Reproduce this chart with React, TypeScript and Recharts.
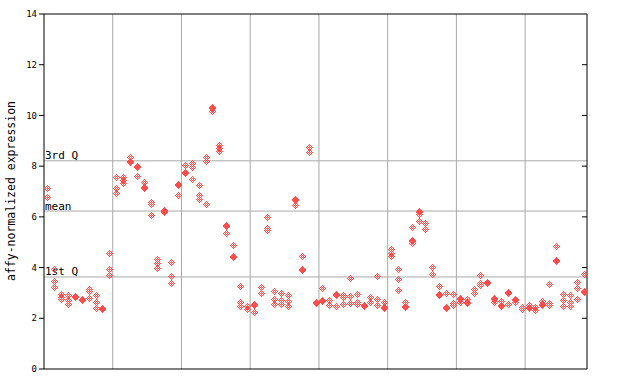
import React from 'react';
import { ScatterChart, Scatter, XAxis, YAxis, ReferenceLine } from 'recharts';

// Expression values per sample (8 groups, 79 samples)
const group1: number[][] = [
  [7.14, 6.78], [3.93, 3.47, 3.23], [2.94, 2.85, 2.76], [2.92, 2.72, 2.56], [2.87, 2.83],
  [2.75, 2.71], [3.15, 3.07, 2.8], [2.92, 2.65, 2.39], [2.41, 2.37], [4.56, 3.93, 3.69],
];
const group2: number[][] = [
  [7.56, 7.12, 6.94], [7.56, 7.45, 7.32], [8.37, 8.22, 8.18], [8.0, 7.96, 7.61], [7.36, 7.17, 7.13],
  [6.57, 6.51, 6.06], [4.34, 4.17, 3.99], [6.29, 6.25, 6.2], [4.21, 3.67, 3.38], [7.3, 7.26, 6.86],
];
const group3: number[][] = [
  [8.03, 7.76, 7.72], [8.14, 7.98, 7.48], [7.26, 6.86, 6.69], [8.37, 8.21, 6.51], [10.34, 10.3, 10.19],
  [8.85, 8.72, 8.6], [5.67, 5.63, 5.35], [4.88, 4.47, 4.4], [3.26, 2.65, 2.5], [2.5, 2.35],
];
const group4: number[][] = [
  [2.58, 2.54, 2.26], [3.23, 2.98], [5.98, 5.55, 5.48], [3.06, 2.75, 2.56], [2.98, 2.72, 2.56],
  [2.9, 2.67, 2.48], [6.7, 6.66, 6.45], [4.44, 3.94, 3.9], [8.74, 8.57], [2.65, 2.59],
];
const group5: number[][] = [
  [3.18, 2.71, 2.67], [2.74, 2.51], [2.95, 2.91, 2.47], [2.93, 2.85, 2.55], [3.58, 2.88, 2.59],
  [2.96, 2.65, 2.55], [2.54, 2.5], [2.84, 2.63], [3.66, 2.76, 2.52], [2.64, 2.44, 2.4],
];
const group6: number[][] = [
  [4.72, 4.56, 4.47], [3.93, 3.54, 3.1], [2.63, 2.5, 2.46], [5.59, 5.08, 5.04, 4.96], [6.24, 6.2, 6.1, 5.85],
  [5.74, 5.53], [4.01, 3.73], [3.26, 2.94, 2.9], [2.98, 2.44, 2.4], [2.96, 2.61, 2.51],
];
const group7: number[][] = [
  [2.79, 2.75, 2.64], [2.77, 2.63, 2.59], [3.14, 2.98], [3.71, 3.4, 3.32], [3.42, 3.38],
  [2.79, 2.75, 2.64], [2.68, 2.52, 2.48], [3.04, 3.0, 2.56], [2.78, 2.74, 2.65], [2.46, 2.37],
];
const group8: number[][] = [
  [2.54, 2.46, 2.42], [2.43, 2.33], [2.7, 2.58, 2.54], [3.34, 2.61, 2.52], [4.84, 4.29, 4.25],
  [2.94, 2.71, 2.47], [2.9, 2.64, 2.47], [3.42, 3.18, 2.75], [3.73, 3.07, 3.03],
];

const groups = [group1, group2, group3, group4, group5, group6, group7, group8];
const yTicks = [0, 2, 4, 6, 8, 10, 12, 14];
const groupBoundaries = [10, 20, 30, 40, 50, 60, 70];
const quartiles = [
  { label: '3rd Q', value: 8.21 },
  { label: 'mean', value: 6.23 },
  { label: '1st Q', value: 3.63 },
];

const samples: number[][] = groups.flat();
const N = samples.length;
const points: { x: number; y: number }[] = [];
samples.forEach((vals, i) => {
  vals.forEach((v) => points.push({ x: i + 0.5, y: v }));
});

const RED = '#ff4d4d';
const GRID = '#a9a9a9';
const MONO = '"DejaVu Sans Mono", "Liberation Mono", monospace';

const Diamond = (props: any) => {
  const { cx, cy } = props;
  if (cx == null || cy == null) return null;
  const x0 = Math.round(cx);
  const y0 = Math.round(cy);
  const rects: React.ReactNode[] = [];
  for (let dy = -3; dy <= 3; dy++) {
    for (let dx = -3; dx <= 3; dx++) {
      if (Math.abs(dx) + Math.abs(dy) <= 3 && Math.abs(dx + dy) % 2 === 1) {
        rects.push(
          <rect key={`${dx}_${dy}`} x={x0 + dx} y={y0 + dy} width={1} height={1} fill={RED} />
        );
      }
    }
  }
  return <g shapeRendering="crispEdges">{rects}</g>;
};

const QLabel = (props: any) => {
  const { viewBox, text } = props;
  if (!viewBox) return null;
  return (
    <text x={viewBox.x + 1} y={viewBox.y - 1.5} fontFamily={MONO} fontSize={11} fill="#000">
      {text}
    </text>
  );
};

const tickW = 5 / 6.875;

export default function App() {
  return (
    <div style={{ position: 'absolute', left: 0, top: 0, width: 640, height: 384, background: '#fff' }}>
      <ScatterChart width={640} height={384} margin={{ top: 14, right: 53, bottom: 15, left: 0 }}>
        <XAxis type="number" dataKey="x" domain={[0, N]} hide allowDataOverflow />
        <YAxis
          type="number"
          dataKey="y"
          domain={[0, 14]}
          ticks={yTicks}
          width={44}
          allowDataOverflow
          stroke="#000"
          tickSize={5}
          tickMargin={2}
          tick={{ fontFamily: MONO, fontSize: 9, fill: '#000' }}
          axisLine={{ stroke: '#000' }}
          tickLine={{ stroke: '#000' }}
        />
        {groupBoundaries.map((b) => (
          <ReferenceLine key={`g${b}`} x={b} stroke={GRID} strokeWidth={1} />
        ))}
        {quartiles.map((q) => (
          <ReferenceLine
            key={q.label}
            y={q.value}
            stroke={GRID}
            strokeWidth={1}
            label={<QLabel text={q.label} />}
          />
        ))}
        <ReferenceLine y={14} stroke="#000" />
        <ReferenceLine y={0} stroke="#000" />
        <ReferenceLine x={N} stroke="#000" />
        {yTicks.slice(1, -1).map((t) => (
          <ReferenceLine
            key={`rt${t}`}
            segment={[{ x: N - tickW, y: t }, { x: N, y: t }]}
            stroke="#000"
          />
        ))}
        <Scatter data={points} shape={<Diamond />} isAnimationActive={false} />
        <text
          x={15}
          y={191}
          transform="rotate(-90 15 191)"
          textAnchor="middle"
          fontFamily={MONO}
          fontSize={11.5}
          fill="#000"
        >
          affy-normalized expression
        </text>
      </ScatterChart>
    </div>
  );
}
